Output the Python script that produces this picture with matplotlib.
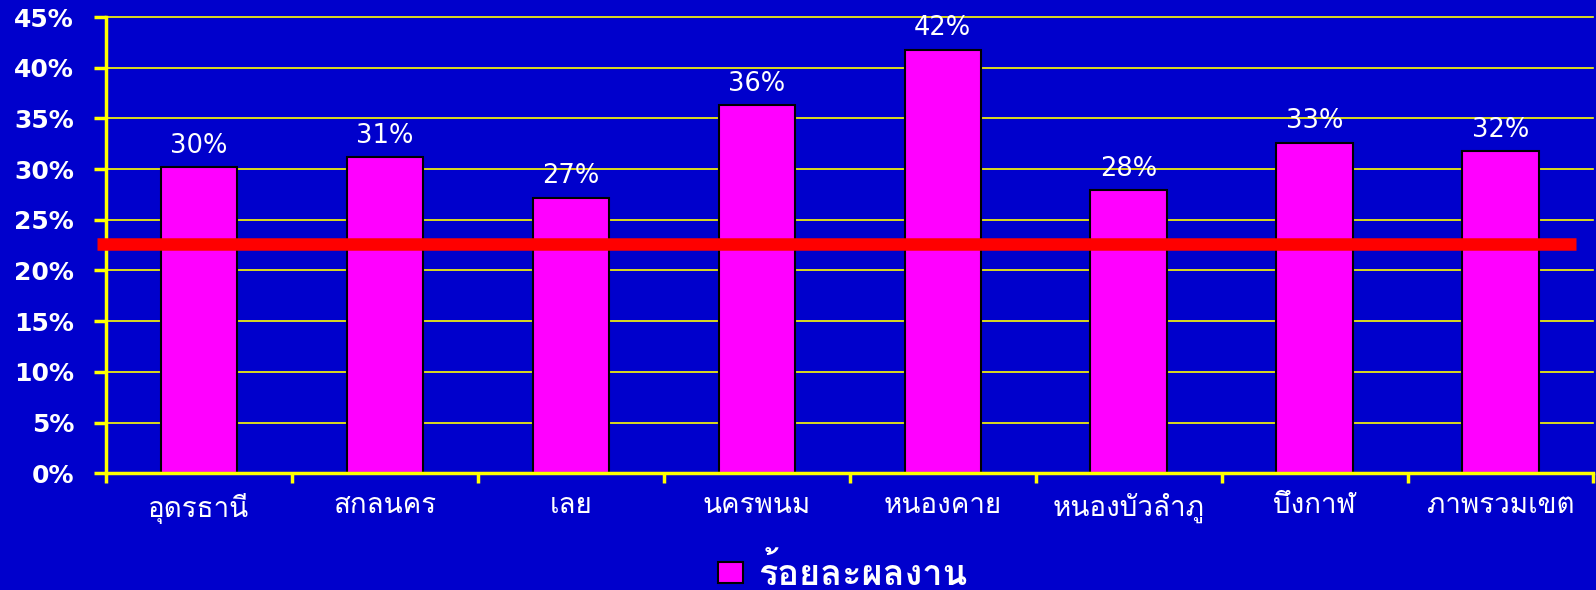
import numpy as np
import matplotlib
matplotlib.use("Agg")
import matplotlib.pyplot as plt
from matplotlib import font_manager
from matplotlib.ft2font import FT2Font

# data
provinces = ["อุดรธานี", "สกลนคร", "เลย", "นครพนม", "หนองคาย",
             "หนองบัวลำภู", "บึงกาฬ", "ภาพรวมเขต"]
performance = [30.2, 31.2, 27.2, 36.3, 41.8, 27.9, 32.6, 31.8]
target = 22.6
series_name = "ร้อยละผลงาน"
y_ticks = [0, 5, 10, 15, 20, 25, 30, 35, 40, 45]


def find_thai_font():
    # pick the first installed font that has Thai glyphs
    for f in font_manager.fontManager.ttflist:
        try:
            if 0x0E01 in FT2Font(f.fname).get_charmap():
                return f.name
        except Exception:
            continue
    return "DejaVu Sans"


thai_font = find_thai_font()
bg = "#0000cc"
yellow = "#ffff00"

fig = plt.figure(figsize=(15.96, 5.9), dpi=100, facecolor=bg)
ax = fig.add_axes([0.0664, 0.198, 0.932, 0.773], facecolor=bg)

x = np.arange(len(provinces))
bars = ax.bar(x, performance, width=0.41, color="#ff00ff", edgecolor="black",
              linewidth=1.5, zorder=2, label=series_name)
ax.bar_label(bars, labels=[f"{round(v)}%" for v in performance], padding=6,
             color="white", fontsize=18.5, family="DejaVu Sans")

# target line, runs a bit past the axis on the left
ax.axhline(target, xmin=-0.006, xmax=0.988, color="red", linewidth=9,
           clip_on=False, zorder=3, solid_capstyle="butt")

ax.set_xlim(-0.5, len(provinces) - 0.5)
ax.set_ylim(0, 45)
ax.set_yticks(y_ticks)
ax.set_yticklabels([f"{v}%" for v in y_ticks], color="white", fontsize=18,
                   fontweight="bold", family="DejaVu Sans")
ax.yaxis.grid(True, color=yellow, linewidth=1.2, zorder=1)
for gl in ax.get_ygridlines():
    gl.set_clip_on(False)
ax.set_axisbelow(True)
ax.tick_params(axis="y", direction="out", length=9, width=2.5, color=yellow, pad=14)

ax.set_xticks(x)
ax.set_xticklabels(provinces, color="white", fontsize=20, family=[thai_font, "DejaVu Sans"])
ax.set_xticks(np.arange(len(provinces) + 1) - 0.5, minor=True)
ax.tick_params(axis="x", which="major", length=0, pad=14)
ax.tick_params(axis="x", which="minor", direction="out", length=7, width=2.5, color=yellow)

for side in ["top", "right"]:
    ax.spines[side].set_visible(False)
for side in ["left", "bottom"]:
    ax.spines[side].set_color(yellow)
    ax.spines[side].set_linewidth(2.5)

leg = fig.legend(handles=[bars], loc="center", bbox_to_anchor=(0.528, 0.028), frameon=False,
                 handlelength=0.7, handleheight=0.5, handletextpad=0.4,
                 prop={"family": [thai_font, "DejaVu Sans"], "size": 26, "weight": "bold"})
for t in leg.get_texts():
    t.set_color("white")

fig.savefig("out.png", dpi=100, facecolor=bg)
